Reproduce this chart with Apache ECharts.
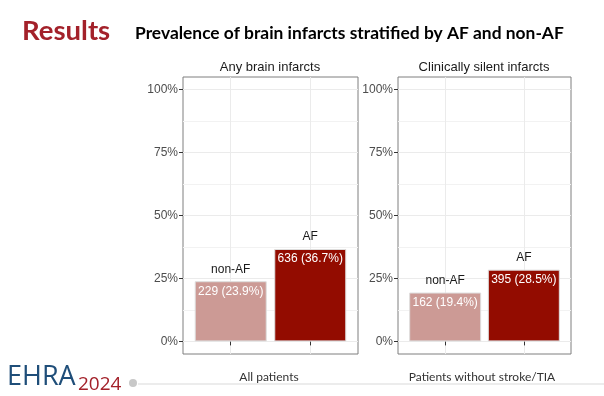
<!DOCTYPE html>
<html>
<head>
<meta charset="utf-8">
<script src="https://cdn.jsdelivr.net/npm/echarts@6/dist/echarts.min.js"></script>
<style>
html,body{margin:0;padding:0;background:#fff;}
#main{width:604px;height:396px;}
</style>
</head>
<body>
<div id="main"></div>
<script>
// data
var groups = ['non-AF', 'AF'];
var panelTitles = ['Any brain infarcts', 'Clinically silent infarcts'];
var xTitles = ['All patients', 'Patients without stroke/TIA'];
var countsAll = [229, 636];
var pctAll = [23.9, 36.7];
var countsSilent = [162, 395];
var pctSilent = [19.4, 28.5];
var yTicks = [0, 25, 50, 75, 100];
var yMinor = [12.5, 37.5, 62.5, 87.5];

var barColors = ['#cc9a95', '#930c00'];
var myChart = echarts.init(document.getElementById('main'));

function barData(pct, counts){
    var arr = [];
    for (var i = 0; i < pct.length; i++) {
        arr.push({
            value: [i + 1, pct[i]],
            count: counts[i],
            itemStyle: {color: barColors[i]}
        });
    }
    return arr;
}
function nameData(pct){
    var arr = [];
    for (var i = 0; i < pct.length; i++) {
        arr.push({value: [i + 1, pct[i]], gname: groups[i]});
    }
    return arr;
}

function xAx(idx){
    return {
        type: 'value', gridIndex: idx, min: 0.4, max: 2.6,
        axisLine: {show: false},
        axisTick: {show: true, customValues: [1, 2], length: 4, lineStyle: {color: '#333'}},
        axisLabel: {show: false, customValues: [1, 2]},
        splitLine: {show: true, lineStyle: {color: '#ebebeb', width: 1}}
    };
}
function yAx(idx){
    return {
        type: 'value', gridIndex: idx, min: -5, max: 105,
        axisLine: {show: false},
        axisTick: {show: true, customValues: yTicks, length: 4, lineStyle: {color: '#333'}},
        axisLabel: {
            customValues: yTicks, color: '#4d4d4d', fontSize: 12,
            fontFamily: 'Liberation Sans', margin: 5,
            formatter: function(v){ return v + '%'; }
        },
        splitLine: {show: true, lineStyle: {color: '#ebebeb', width: 1}}
    };
}
// hidden axis only for the minor grid lines
function yMinorAx(idx){
    return {
        type: 'value', gridIndex: idx, min: -5, max: 105, position: 'left',
        axisLine: {show: false},
        axisTick: {show: false, customValues: yMinor},
        axisLabel: {show: false, customValues: yMinor},
        splitLine: {show: true, lineStyle: {color: '#f2f2f2', width: 1}}
    };
}

function barSeries(idx, pct, counts){
    return [{
        type: 'bar', xAxisIndex: idx, yAxisIndex: idx * 2, barWidth: 72,
        data: barData(pct, counts),
        itemStyle: {borderColor: '#dedede', borderWidth: 1},
        label: {
            show: true, position: 'insideTop', distance: 4, color: '#fff',
            fontSize: 12, fontFamily: 'Liberation Sans',
            formatter: function(p){ return p.data.count + ' (' + p.data.value[1] + '%)'; }
        },
        z: 3
    }, {
        type: 'bar', xAxisIndex: idx, yAxisIndex: idx * 2, barWidth: 72, barGap: '-100%',
        data: nameData(pct),
        itemStyle: {color: 'rgba(0,0,0,0)'},
        label: {
            show: true, position: 'top', distance: 6, color: '#1a1a1a',
            fontSize: 12, fontFamily: 'Liberation Sans',
            formatter: function(p){ return p.data.gname; }
        },
        z: 4
    }];
}

var option = {
    animation: false,
    backgroundColor: '#fff',
    grid: [
        {left: 183, top: 77, width: 175, height: 277, show: true, borderColor: '#7f7f7f', borderWidth: 1, backgroundColor: 'transparent'},
        {left: 398, top: 77, width: 173, height: 277, show: true, borderColor: '#7f7f7f', borderWidth: 1, backgroundColor: 'transparent'}
    ],
    xAxis: [xAx(0), xAx(1)],
    yAxis: [yAx(0), yMinorAx(0), yAx(1), yMinorAx(1)],
    series: barSeries(0, pctAll, countsAll).concat(barSeries(1, pctSilent, countsSilent)),
    graphic: [
        {type: 'text', left: 22, top: 17, style: {text: 'Results', font: 'bold 27.5px Lato', fill: '#a3212a'}},
        {type: 'text', left: 135, top: 25, style: {text: 'Prevalence of brain infarcts stratified by AF and non-AF', font: 'bold 17.4px Lato', fill: '#000'}},
        {type: 'text', x: 270, y: 67, style: {text: panelTitles[0], font: '13px "Liberation Sans"', fill: '#1a1a1a', align: 'center', verticalAlign: 'middle'}},
        {type: 'text', x: 484, y: 67, style: {text: panelTitles[1], font: '13px "Liberation Sans"', fill: '#1a1a1a', align: 'center', verticalAlign: 'middle'}},
        {type: 'text', x: 269, y: 377, style: {text: xTitles[0], font: '12px Lato', fill: '#333', align: 'center', verticalAlign: 'middle'}},
        {type: 'text', x: 482, y: 377, style: {text: xTitles[1], font: '12px Lato', fill: '#333', align: 'center', verticalAlign: 'middle'}},
        {type: 'line', shape: {x1: 138, y1: 384, x2: 604, y2: 384}, style: {stroke: '#d9d9d9', lineWidth: 1}},
        {type: 'circle', shape: {cx: 133, cy: 383, r: 4}, style: {fill: '#c8c8c8'}},
        {type: 'text', left: 7, top: 364, style: {text: 'EHRA', font: '27px "Open Sans"', fill: '#1f4e79'}},
        {type: 'text', left: 78, top: 375, style: {text: '2024', font: '19px "Open Sans"', fill: '#a3212a'}}
    ]
};
myChart.setOption(option);
</script>
</body>
</html>
